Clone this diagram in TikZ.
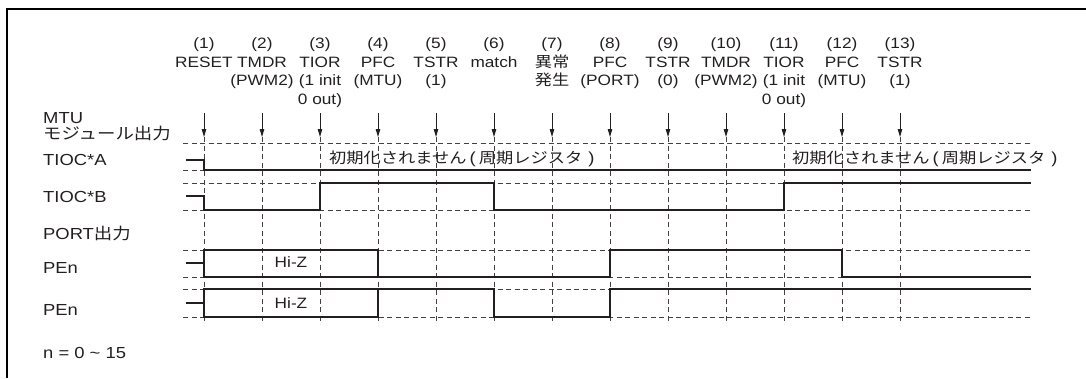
\documentclass[tikz,border=0pt]{standalone}
\usepackage{fontspec}
\setmainfont{Liberation Sans}[FakeStretch=1.15]
\newfontfamily\cjk{Noto Sans CJK JP}[FakeStretch=1.15]
\usetikzlibrary{arrows.meta}
\definecolor{ink}{HTML}{231F20}
\newcommand{\shoki}{{\cjk 初期化されません}\hspace{3pt}{\fontsize{16}{16}\selectfont(}\hspace{3pt}{\cjk 周期レジスタ}\hspace{6pt}{\fontsize{16}{16}\selectfont)}}
\begin{document}
\begin{tikzpicture}[x=1pt,y=-1pt,
  lbl/.style={font=\fontsize{15}{18.5}\selectfont, inner sep=0pt, text=ink},
  hdr/.style={lbl, align=center, anchor=north},
  side/.style={lbl, font=\fontsize{16}{18}\selectfont, anchor=base west},
  guide/.style={line width=0.9pt, dash pattern=on 5pt off 3.5pt, draw=ink!85},
  sig/.style={line width=2pt, draw=ink},
  evarrow/.style={line width=0.9pt, draw=ink, -{Triangle[length=8pt,width=4.5pt]}},
  frame/.style={line width=2pt, draw=black}]
\useasboundingbox (0,0) rectangle (1086,378);
% frame
\coordinate (fb) at (6.7,378);
\coordinate (fc) at (6.7,9);
\coordinate (fr) at (1086,9);
\draw[frame] (fb) -- (fc) -- (fr);
% columns
\foreach \i in {1,...,13}{
  \pgfmathsetmacro\xx{204+58*(\i-1)}
  \coordinate (t\i) at (\xx,113);
  \coordinate (b\i) at (\xx,137);
  \coordinate (e\i) at (\xx,324);
  \coordinate (h\i) at (\xx,37.5);
}
% header labels
\node[hdr] (c1) at (h1) {(1)\\RESET};
\node[hdr] (c2) at (h2) {(2)\\TMDR\\(PWM2)};
\node[hdr] (c3) at (h3) {(3)\\TIOR\\(1 init\\0 out)};
\node[hdr] (c4) at (h4) {(4)\\PFC\\(MTU)};
\node[hdr] (c5) at (h5) {(5)\\TSTR\\(1)};
\node[hdr] (c6) at (h6) {(6)\\match};
\node[hdr] (c7) at (h7) {(7)\\{\cjk 異常}\\{\cjk 発生}};
\node[hdr] (c8) at (h8) {(8)\\PFC\\(PORT)};
\node[hdr] (c9) at (h9) {(9)\\TSTR\\(0)};
\node[hdr] (c10) at (h10) {(10)\\TMDR\\(PWM2)};
\node[hdr] (c11) at (h11) {(11)\\TIOR\\(1 init\\0 out)};
\node[hdr] (c12) at (h12) {(12)\\PFC\\(MTU)};
\node[hdr] (c13) at (h13) {(13)\\TSTR\\(1)};
% horizontal guide levels
\foreach \k/\yy in {1/143,2/170,3/183,4/210,5/250,6/277,7/289,8/317}{
  \coordinate (gl\k) at (183,\yy);
  \coordinate (gr\k) at (1031,\yy);
  \draw[guide] (gl\k) -- (gr\k);
}
% event arrows and vertical guides
\foreach \i in {1,...,13}{
  \draw[evarrow] (t\i) -- (b\i);
  \draw[guide] (b\i) -- (e\i);
}
% left labels
\node[side] (mtu) at (43,123.5) {MTU};
\node[side] (mod) at (43,139) {\cjk モジュール出力};
\node[side] (ta) at (43,165) {TIOC*A};
\node[side] (tb) at (43,202) {TIOC*B};
\node[side] (po) at (43,239) {PORT{\cjk 出力}};
\node[side] (pe1) at (43,273) {PEn};
\node[side] (pe2) at (43,315) {PEn};
\node[side] (nn) at (43,358) {n = 0 \textasciitilde{} 15};
% notes
\node[lbl, anchor=west] (na) at (329,159) {\shoki};
\node[lbl, anchor=west] (nb) at (792,159) {\shoki};
\node[lbl, anchor=base] (hz1) at (291,267) {Hi-Z};
\node[lbl, anchor=base] (hz2) at (291,308) {Hi-Z};
% waveforms
\draw[sig] (186,160) -- (204,160) -- (204,170) -- (1031,170);
\draw[sig] (186,196) -- (204,196) -- (204,210) -- (320,210) -- (320,183)
  -- (494,183) -- (494,210) -- (784,210) -- (784,183) -- (1031,183);
\draw[sig] (186,263) -- (204,263);
\draw[sig] (204,250) rectangle (378,277);
\draw[sig] (378,277) -- (610,277) -- (610,250) -- (842,250) -- (842,277) -- (1031,277);
\draw[sig] (186,303) -- (204,303);
\draw[sig] (204,289) rectangle (378,317);
\draw[sig] (378,289) -- (494,289) -- (494,317) -- (610,317) -- (610,289) -- (1031,289);
\end{tikzpicture}
\end{document}
